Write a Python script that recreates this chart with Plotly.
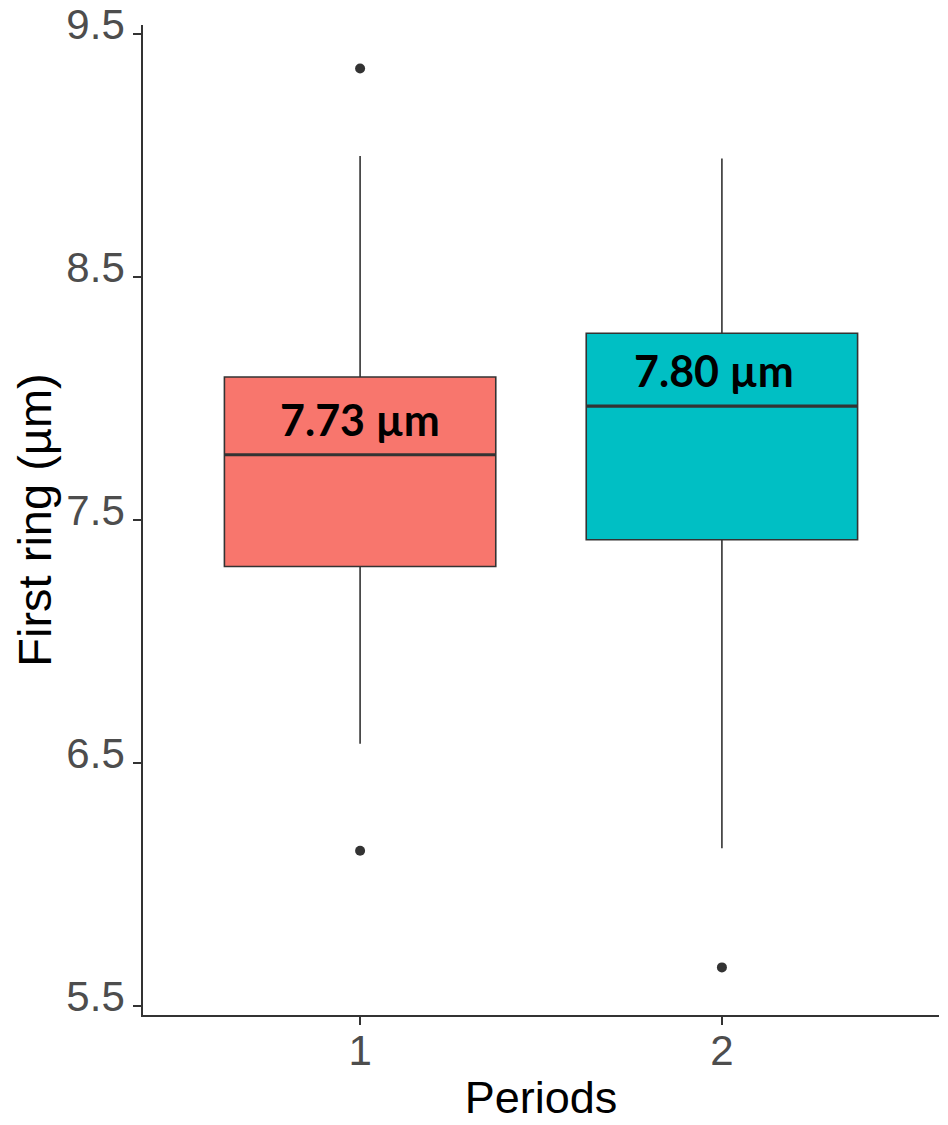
import plotly.graph_objects as go

# Summary statistics of the first ring per period
periods = [1, 2]
period_labels = ["1", "2"]
q1 = [7.31, 7.42]
medians = [7.77, 7.97]
q3 = [8.09, 8.27]
lower_whisker = [6.58, 6.15]
upper_whisker = [9.00, 8.99]
outlier_period = [1, 1, 2]
outlier_value = [9.36, 6.14, 5.66]
mean_values = [7.73, 7.80]
y_ticks = [5.5, 6.5, 7.5, 8.5, 9.5]

fill_colors = ["#F8766D", "#00BFC4"]
line_col = "#333333"
box_width = 0.75

fig = go.Figure()

for i, p in enumerate(periods):
    fig.add_trace(go.Box(
        x=[p], q1=[q1[i]], median=[medians[i]], q3=[q3[i]],
        lowerfence=[lower_whisker[i]], upperfence=[upper_whisker[i]],
        width=box_width, whiskerwidth=0,
        fillcolor=fill_colors[i],
        line=dict(color=line_col, width=1.6),
        boxpoints=False, showlegend=False, hoverinfo="skip",
    ))
    # thicker median bar
    fig.add_trace(go.Scatter(
        x=[p - box_width / 2, p + box_width / 2], y=[medians[i], medians[i]],
        mode="lines", line=dict(color=line_col, width=3.2),
        showlegend=False, hoverinfo="skip",
    ))

fig.add_trace(go.Scatter(
    x=outlier_period, y=outlier_value, mode="markers",
    marker=dict(color=line_col, size=10),
    showlegend=False, hoverinfo="skip",
))

# mean labels inside the boxes
label_shift = [0, -8]
for i, p in enumerate(periods):
    fig.add_annotation(
        x=p, y=medians[i] + 0.145, xref="x", yref="y",
        text=f"<b>{mean_values[i]:.2f} µm</b>", showarrow=False,
        xshift=label_shift[i],
        font=dict(family="Lato", size=43, color="black"),
        xanchor="center", yanchor="middle",
    )

axis_common = dict(
    showline=True, linecolor=line_col, linewidth=1.7,
    ticks="outside", ticklen=8, tickwidth=1.5, tickcolor=line_col,
    showgrid=False, zeroline=False, automargin=False,
    tickfont=dict(family="Liberation Sans, Arial", size=42, color="#4D4D4D"),
)

fig.update_layout(
    width=948, height=1125,
    margin=dict(l=143, r=9, t=25, b=110),
    plot_bgcolor="white", paper_bgcolor="white",
    xaxis=dict(range=[0.4, 2.6], tickvals=periods, ticktext=period_labels,
               ticklabelstandoff=-10,
               title=dict(text="Periods", standoff=8,
                          font=dict(family="Liberation Sans, Arial", size=45, color="black")),
               **axis_common),
    yaxis=dict(range=[5.464, 9.539], tickvals=y_ticks,
               ticktext=[f"{v:.1f}" for v in y_ticks],
               ticklabelshift=-10, ticklabeloverflow="allow",
               title=dict(text="First ring (µm)", standoff=0,
                          font=dict(family="Liberation Sans, Arial", size=47, color="black")),
               **axis_common),
)

fig.write_html("out.html")
